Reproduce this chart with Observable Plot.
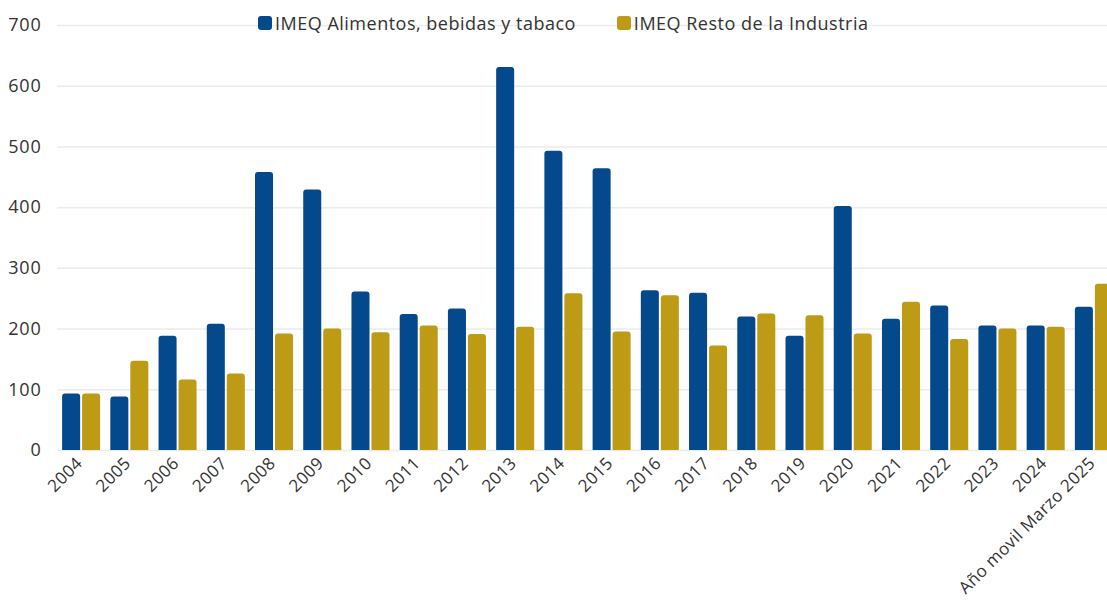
<!DOCTYPE html>
<html>
<head>
<meta charset="utf-8">
<script src="https://cdn.jsdelivr.net/npm/d3@7"></script>
<script src="https://cdn.jsdelivr.net/npm/@observablehq/plot@0.6"></script>
<style>
  html, body { margin: 0; padding: 0; background: #fff; }
  #wrap { position: relative; width: 1107px; height: 603px; overflow: hidden; font-family: "Open Sans", sans-serif; }
  #legend { position: absolute; top: 11px; left: 258px; display: flex; align-items: center; font-size: 18px; letter-spacing: 0.5px; color: #333; white-space: nowrap; z-index: 2; }
  .item { display: flex; align-items: center; }
  .sw { width: 14px; height: 14px; border-radius: 3px; margin-right: 3px; }
  #chart svg .yax text { letter-spacing: 0.8px; }
  #chart svg .xax text { letter-spacing: 0.4px; }
</style>
</head>
<body>
<div id="wrap">
  <div id="legend"></div>
  <div id="chart"></div>
</div>
<script>
const categories = ["2004","2005","2006","2007","2008","2009","2010","2011","2012","2013","2014","2015","2016","2017","2018","2019","2020","2021","2022","2023","2024","Año movil Marzo 2025"];
const alimentos = [93,88,188,208,458,429,261,224,233,631,493,464,263,259,220,188,402,216,238,205,205,236];
const resto = [93,147,116,126,192,200,194,205,191,203,258,195,255,172,225,222,192,244,183,200,203,274];
const seriesNames = ["IMEQ Alimentos, bebidas y tabaco", "IMEQ Resto de la Industria"];
const seriesColors = ["#04498c", "#bd9b14"];
const yTicks = [0,100,200,300,400,500,600,700];

const data = categories.map((c, i) => ({cat: c, a: alimentos[i], r: resto[i]}));

const legend = document.getElementById("legend");
seriesNames.forEach((n, i) => {
  const it = document.createElement("div");
  it.className = "item";
  if (i > 0) it.style.marginLeft = "41px";
  const sw = document.createElement("div");
  sw.className = "sw";
  sw.style.background = seriesColors[i];
  const t = document.createElement("span");
  t.textContent = n;
  it.appendChild(sw); it.appendChild(t);
  legend.appendChild(it);
});

const chart = Plot.plot({
  width: 1107,
  height: 603,
  marginTop: 25,
  marginBottom: 153,
  marginLeft: 57,
  marginRight: 0,
  style: {fontFamily: "'Open Sans', sans-serif", fontSize: "18px", color: "#333", background: "transparent"},
  x: {domain: categories, range: [57, 1118], padding: 0, round: false, label: null},
  y: {domain: [0, 700], label: null},
  marks: [
    Plot.ruleY(yTicks, {stroke: "#ebebeb", strokeWidth: 1.5}),
    Plot.barY(data, {x: "cat", y: "a", fill: seriesColors[0], insetLeft: 5.1, insetRight: 25.1, ry1: 3}),
    Plot.barY(data, {x: "cat", y: "r", fill: seriesColors[1], insetLeft: 25.1, insetRight: 5.1, ry1: 3}),
    Plot.axisY({ticks: yTicks, tickSize: 0, tickPadding: 16, label: null, fill: "#333", className: "yax"}),
    Plot.axisX({tickSize: 0, tickRotate: -45, tickPadding: 10, fontSize: 17, dx: -2, label: null, fill: "#333", className: "xax"})
  ]
});
document.getElementById("chart").appendChild(chart);
</script>
</body>
</html>
